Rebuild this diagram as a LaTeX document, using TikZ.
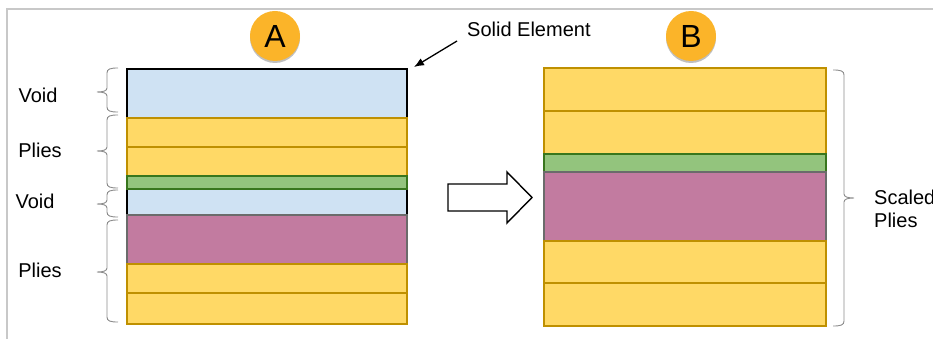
\documentclass[tikz,border=0pt]{standalone}
\usepackage{fontspec}
\setmainfont{Liberation Sans}
\usetikzlibrary{shadows,arrows.meta}
\definecolor{voidc}{HTML}{CFE2F3}
\definecolor{plyY}{HTML}{FFD966}
\definecolor{plyYb}{HTML}{BF9000}
\definecolor{plyG}{HTML}{93C47D}
\definecolor{plyGb}{HTML}{38761D}
\definecolor{plyP}{HTML}{C27BA0}
\definecolor{plyPb}{HTML}{6B6B6B}
\definecolor{badgec}{HTML}{FBB429}
\definecolor{framec}{HTML}{C8C8C8}
\definecolor{bracec}{HTML}{8A8A8A}
\tikzset{
  yply/.style={fill=plyY, draw=plyYb, line width=1.1pt},
  gply/.style={fill=plyG, draw=plyGb, line width=1.1pt},
  pply/.style={fill=plyP, draw=plyPb, line width=1.1pt},
  voidfill/.style={fill=voidc},
  solidel/.style={draw=black, line width=2.8pt},
  lbl/.style={font=\fontsize{20}{23}\selectfont, inner sep=0pt},
  badge/.style={circle, fill=badgec, minimum size=50pt, inner sep=0pt,
    font=\fontsize{32}{32}\selectfont,
    drop shadow={shadow xshift=0pt, shadow yshift=-2pt, opacity=0.25, fill=black}},
  bracel/.style={draw=bracec, line width=0.9pt},
  hollowarrow/.style={draw=black, line width=1.4pt, fill=white, line join=miter},
}
% left brace: #1 hook x, #2 top, #3 middle, #4 bottom (vertical 11 left, tip 21 left)
\newcommand{\leftbrace}[4]{%
  \draw[bracel] (#1,#2) .. controls ({#1-8},#2) and ({#1-11},{#2+1}) .. ({#1-11},{#2+5})
    -- ({#1-11},{#3-4}) .. controls ({#1-11},{#3-1}) and ({#1-15},#3) .. ({#1-21},#3)
    .. controls ({#1-15},#3) and ({#1-11},{#3+1}) .. ({#1-11},{#3+4})
    -- ({#1-11},{#4-5}) .. controls ({#1-11},{#4-1}) and ({#1-8},#4) .. (#1,#4);}
\newcommand{\rightbrace}[4]{%
  \draw[bracel] (#1,#2) .. controls ({#1+8},#2) and ({#1+11},{#2+1}) .. ({#1+11},{#2+5})
    -- ({#1+11},{#3-4}) .. controls ({#1+11},{#3-1}) and ({#1+15},#3) .. ({#1+21},#3)
    .. controls ({#1+15},#3) and ({#1+11},{#3+1}) .. ({#1+11},{#3+4})
    -- ({#1+11},{#4-5}) .. controls ({#1+11},{#4-1}) and ({#1+8},#4) .. (#1,#4);}
\begin{document}
\begin{tikzpicture}[x=1pt, y=-1pt]
\useasboundingbox (0,0) rectangle (933,339);
% frame
\draw[framec, line width=2pt] (7,339) -- (7,9) -- (933,9);

% ---- Stack A ----
\draw[solidel, voidfill] (127,69) rectangle (407,324);
\filldraw[yply] (127,118) rectangle (407,147);
\filldraw[yply] (127,147) rectangle (407,176);
\filldraw[gply] (127,176) rectangle (407,189);
\fill[voidfill] (128.5,189.6) rectangle (405.5,215);
\filldraw[pply] (127,215) rectangle (407,264);
\filldraw[yply] (127,264) rectangle (407,293);
\filldraw[yply] (127,293) rectangle (407,324);

% ---- Stack B ----
\draw[draw=black!70, line width=2.8pt] (544,68) rectangle (826,326);
\filldraw[yply] (544,68) rectangle (826,111);
\filldraw[yply] (544,111) rectangle (826,154);
\filldraw[gply] (544,154) rectangle (826,172);
\filldraw[pply] (544,172) rectangle (826,241);
\filldraw[yply] (544,241) rectangle (826,283);
\filldraw[yply] (544,283) rectangle (826,326);

% badges
\node[badge] (A) at (275,36) {A};
\node[badge] (B) at (691,36) {B};

% solid element label
\node[lbl, anchor=west] (se) at (467,29) {Solid Element};
\coordinate (arrS) at (457,41);
\coordinate (arrE) at (414,67);
\draw[line width=1.3pt, -{Latex[length=10pt,width=8pt]}] (arrS) -- (arrE);

% hollow arrow
\draw[hollowarrow] (448,184) -- (507,184) -- (507,172) -- (532,197.5)
  -- (507,223) -- (507,211) -- (448,211) -- cycle;

% braces A
\leftbrace{118}{68}{92}{112}
\leftbrace{118}{115}{151}{188}
\leftbrace{118}{190}{204}{217}
\leftbrace{118}{220}{272}{322}
% brace B
\rightbrace{833}{70}{198}{326}

% labels
\node[lbl] (v1) at (38,95) {Void};
\node[lbl] (p1) at (40,150) {Plies};
\node[lbl] (v2) at (35,201) {Void};
\node[lbl] (p2) at (40,270) {Plies};
\node[lbl, anchor=west, align=left] (sp) at (874,208.5) {Scaled\\Plies};
\end{tikzpicture}
\end{document}
